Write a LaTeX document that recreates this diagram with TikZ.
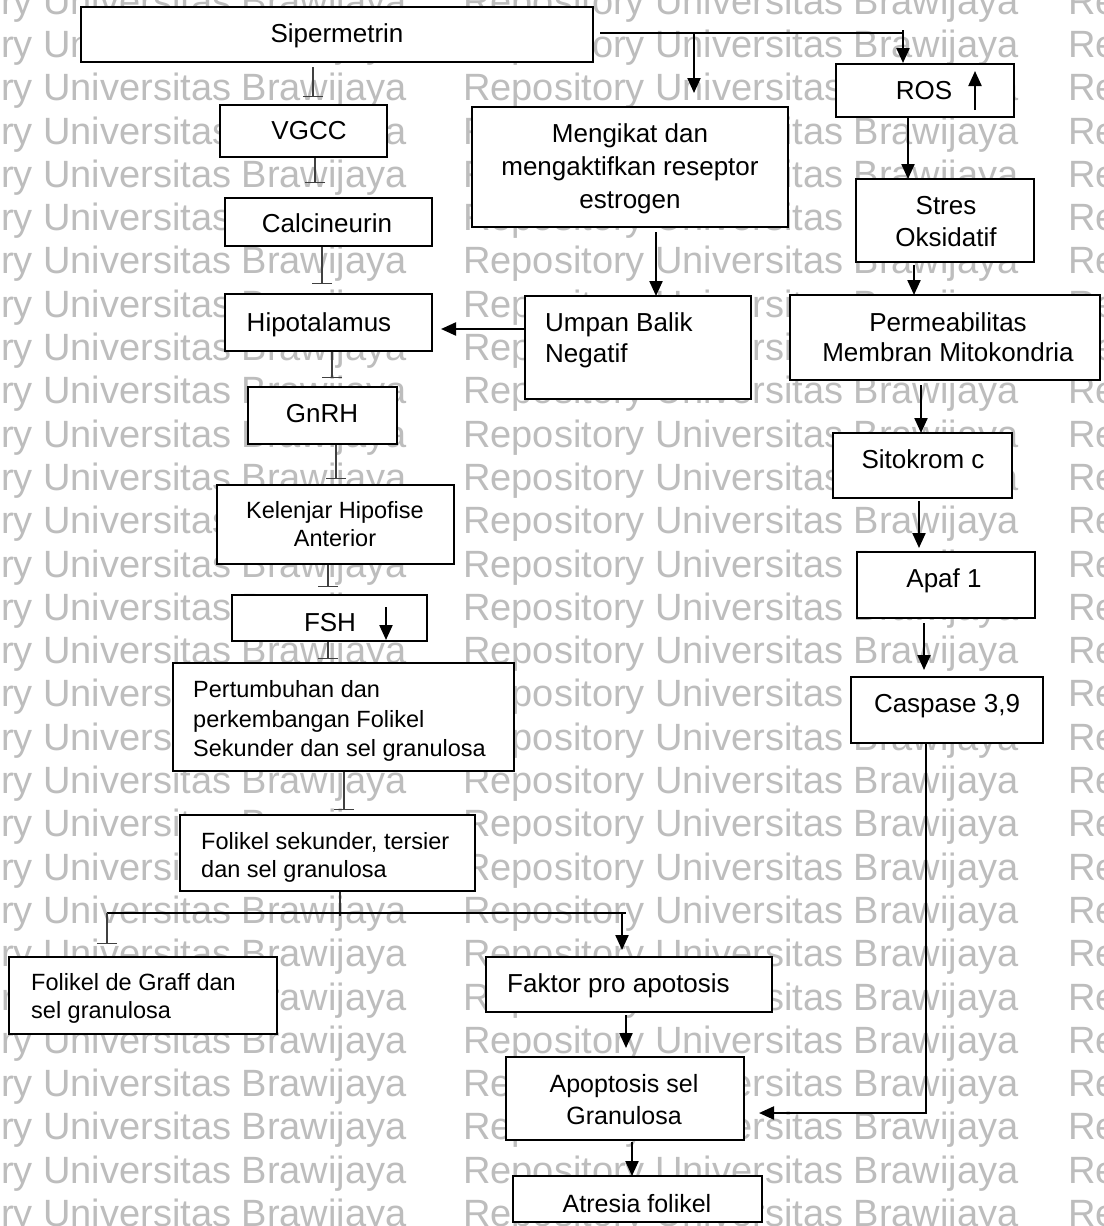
\documentclass[tikz,border=0pt]{standalone}
\usepackage{fontspec}
\setmainfont{Liberation Sans}
\usetikzlibrary{arrows.meta,calc}
\newcommand\mybox[5]{\node[box, minimum width={#4-#2}, minimum height={#5-#3}] (#1) at (#2,#3) {};}
\begin{document}
\begin{tikzpicture}[x=1pt,y=-1pt,
  box/.style={draw=black, line width=1.8pt, fill=white, inner sep=0pt, outer sep=0pt, anchor=north west},
  lbl/.style={inner sep=0pt, font=\fontsize{26}{33}\selectfont},
  slbl/.style={inner sep=0pt, font=\fontsize{23.5}{28}\selectfont},
  wm/.style={inner sep=0pt, anchor=base west, text=black!26, font=\fontsize{38}{40}\selectfont},
  arr/.style={line width=2.2pt, -{Triangle[length=15pt,width=13pt]}},
  inh/.style={draw=black!75, line width=1.2pt, -{Bar[width=20pt,line width=1.2pt]}},
  thinline/.style={draw=black!80, line width=1.2pt},
  thickline/.style={draw=black, line width=2pt},
]
\useasboundingbox (0,0) rectangle (1103,1226);
\fill[white] (0,0) rectangle (1103,1226);
% watermark
\foreach \k in {0,...,28}{
  \foreach \c/\x in {a/-149,b/463,c/1068}{
    \node[wm] (wm\k\c) at (\x,{14.1+43.3*\k}) {Repository Universitas Brawijaya};
  }
}
% boxes
\mybox{sip}{81}{7}{593}{62}
\mybox{vgcc}{220}{105}{387}{157}
\mybox{calc}{225}{198}{432}{246}
\mybox{hipo}{225}{294}{432}{351}
\mybox{gnrh}{248}{387}{397}{444}
\mybox{kel}{217}{485}{454}{564}
\mybox{fsh}{232}{595}{427}{641}
\mybox{pert}{173}{663}{514}{771}
\mybox{fols}{180}{815}{475}{891}
\mybox{graff}{9}{957}{277}{1034}
\mybox{faktor}{486}{957}{772}{1012}
\mybox{apop}{506}{1057}{744}{1140}
\mybox{atr}{513}{1176}{762}{1222}
\mybox{meng}{472}{107}{788}{227}
\mybox{umpan}{525}{296}{751}{399}
\mybox{ros}{836}{64}{1014}{117}
\mybox{stres}{856}{179}{1034}{262}
\mybox{perm}{790}{295}{1100}{380}
\mybox{sito}{833}{433}{1012}{498}
\mybox{apaf}{857}{552}{1035}{618}
\mybox{casp}{851}{677}{1043}{743}
% texts
\node[lbl, anchor=base] (tsip) at (337,42.3) {Sipermetrin};
\node[lbl, anchor=base] (tvgcc) at (309,139.3) {VGCC};
\node[lbl, anchor=base] (tcalc) at (327,232.3) {Calcineurin};
\node[lbl, anchor=base] (thipo) at (319,331.3) {Hipotalamus};
\node[lbl, anchor=base] (tgnrh) at (322,422.3) {GnRH};
\node[slbl, anchor=north, align=center] (tkel) at (335,501.6) {Kelenjar Hipofise\\Anterior};
\node[lbl, anchor=base] (tfsh) at (330,631.3) {FSH};
\node[slbl, anchor=north west, align=left, font=\fontsize{23.5}{29.5}\selectfont] (tpert) at (193,680.6) {Pertumbuhan dan\\perkembangan Folikel\\Sekunder dan sel granulosa};
\node[slbl, anchor=north west, align=left] (tfols) at (201,832.6) {Folikel sekunder, tersier\\dan sel granulosa};
\node[slbl, anchor=north west, align=left] (tgraff) at (31,973.6) {Folikel de Graff dan\\sel granulosa};
\node[lbl, anchor=base west] (tfaktor) at (507,992.3) {Faktor pro apotosis};
\node[lbl, anchor=north, align=center, font=\fontsize{25}{32}\selectfont] (tapop) at (624,1074) {Apoptosis sel\\Granulosa};
\node[lbl, anchor=base, font=\fontsize{25}{30}\selectfont] (tatr) at (637,1212) {Atresia folikel};
\node[lbl, anchor=north, align=center] (tmeng) at (630,123.7) {Mengikat dan\\mengaktifkan reseptor\\estrogen};
\node[lbl, anchor=north west, align=left, font=\fontsize{26}{31}\selectfont] (tumpan) at (545,312.7) {Umpan Balik\\Negatif};
\node[lbl, anchor=base] (tros) at (924,99.3) {ROS};
\node[lbl, anchor=north, align=center, font=\fontsize{26}{32}\selectfont] (tstres) at (946,195.7) {Stres\\Oksidatif};
\node[lbl, anchor=north, align=center, font=\fontsize{26}{30}\selectfont] (tperm) at (948,312.7) {Permeabilitas\\Membran Mitokondria};
\node[lbl, anchor=base] (tsito) at (923,468.3) {Sitokrom c};
\node[lbl, anchor=base] (tapaf) at (944,587.3) {Apaf 1};
\node[lbl, anchor=base] (tcasp) at (947,712.3) {Caspase 3,9};
% column coordinates
\coordinate (k1) at (313,0);
\coordinate (k2) at (315,0);
\coordinate (k3) at (322,0);
\coordinate (k4) at (332,0);
\coordinate (k5) at (336,0);
\coordinate (k6) at (328,0);
\coordinate (k7) at (344,0);
\coordinate (k8) at (340,0);
\coordinate (rA) at (694,0);
\coordinate (rB) at (656,0);
\coordinate (rC) at (908,0);
\coordinate (rD) at (914,0);
\coordinate (rE) at (921,0);
\coordinate (rF) at (919,0);
\coordinate (rG) at (924,0);
\coordinate (rH) at (926,0);
\coordinate (bA) at (626,0);
\coordinate (bB) at (632,0);
\coordinate (sipR) at (600,33);
\coordinate (sipM) at (694,33);
\coordinate (sipE) at (903,33);
\coordinate (gL) at (107,913);
\coordinate (gR) at (626,913);
\coordinate (gF) at (622,913);
\coordinate (gC) at (340,913);
\coordinate (hy) at (0,329);
\coordinate (cy) at (0,1113);
\coordinate (corner) at (926,1113);
\coordinate (rosA) at (975,110);
\coordinate (rosB) at (975,71);
\coordinate (fshA) at (386,607);
\coordinate (fshB) at (386,640);
% inhibition chain
\draw[inh] ($(sip.south -| k1)+(0,5)$) -- ($(vgcc.north -| k1)+(0,-8)$);
\draw[inh] ($(vgcc.south -| k2)+(0,1)$) -- ($(calc.north -| k2)+(0,-15)$);
\draw[inh] ($(calc.south -| k3)+(0,1)$) -- ($(hipo.north -| k3)+(0,-10)$);
\draw[inh] ($(hipo.south -| k4)+(0,1)$) -- ($(gnrh.north -| k4)+(0,-9)$);
\draw[inh] ($(gnrh.south -| k5)+(0,1)$) -- ($(kel.north -| k5)+(0,-6)$);
\draw[inh] ($(kel.south -| k6)+(0,1)$) -- ($(fsh.north -| k6)+(0,-8)$);
\draw[inh] ($(fsh.south -| k6)+(0,1)$) -- ($(pert.north -| k6)+(0,-4)$);
\draw[inh] ($(pert.south -| k7)+(0,1)$) -- ($(fols.north -| k7)+(0,-5)$);
% split below folikel sekunder
\draw[thinline] ($(fols.south -| k8)+(0,1)$) -- ($(gC)+(0,3)$);
\draw[thickline] (gL) -- (gR);
\draw[inh] (gL) -- ($(graff.north -| gL)+(0,-13)$);
\draw[arr] (gF) -- ($(faktor.north -| gF)+(0,-7)$);
% right branch from sipermetrin
\draw[thickline] (sipR) -- (sipE);
\draw[arr] (sipM) -- ($(meng.north -| rA)+(0,-14)$);
\draw[arr] ($(sipE)+(0,-3)$) -- ($(ros.north -| sipE)+(0,-1)$);
\draw[arr] (ros.south -| rC) -- (stres.north -| rC);
\draw[arr] ($(stres.south -| rD)+(0,3)$) -- (perm.north -| rD);
\draw[arr] ($(meng.south -| rB)+(0,5)$) -- (umpan.north -| rB);
\draw[arr] (umpan.west |- hy) -- ($(hipo.east |- hy)+(9,0)$);
\draw[arr] ($(perm.south -| rE)+(0,5)$) -- (sito.north -| rE);
\draw[arr] ($(sito.south -| rF)+(0,3)$) -- ($(apaf.north -| rF)+(0,-4)$);
\draw[arr] ($(apaf.south -| rG)+(0,5)$) -- ($(casp.north -| rG)+(0,-7)$);
\draw[thinline, draw=black] (casp.south -| rH) -- (corner);
\draw[arr] ($(corner)+(1,0)$) -- ($(apop.east |- cy)+(15,0)$);
\draw[arr] ($(faktor.south -| bA)+(0,3)$) -- ($(apop.north -| bA)+(0,-9)$);
\draw[arr] ($(apop.south -| bB)+(0,2)$) -- (atr.north -| bB);
% small indicator arrows
\draw[arr] (rosA) -- (rosB);
\draw[arr] (fshA) -- (fshB);
\end{tikzpicture}
\end{document}
